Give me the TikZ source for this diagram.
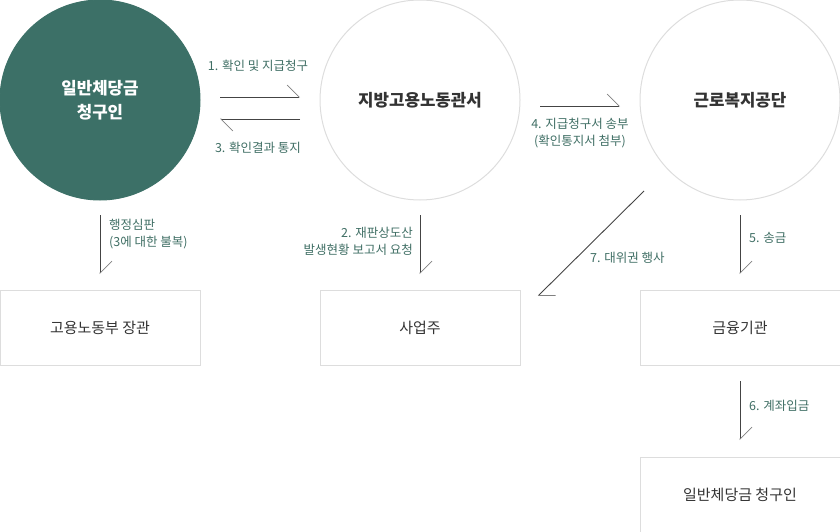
\documentclass[tikz,border=0pt]{standalone}
\usepackage{fontspec}
\setmainfont{Noto Sans CJK KR}
\usetikzlibrary{positioning,arrows.meta}
\definecolor{jade}{HTML}{3C7067}
\definecolor{notegreen}{HTML}{3F6E64}
\definecolor{ink}{HTML}{333333}
\definecolor{rim}{HTML}{DDDDDD}
\definecolor{wire}{HTML}{444444}
\tikzset{
  party/.style={circle, draw=rim, line width=1pt, minimum size=200pt, inner sep=0pt, outer sep=0pt,
    align=center, text=ink, font=\fontsize{16.8}{24}\selectfont\bfseries},
  office/.style={rectangle, draw=rim, line width=1pt, minimum width=200pt, minimum height=75pt,
    inner sep=0pt, outer sep=0pt, text=ink, font=\fontsize{15}{18}\selectfont},
  flow/.style={draw=wire, line width=0.9pt,
    -{Straight Barb[left, length=12pt, width=24pt, line width=0.7pt, color=gray]}},
  note/.style={text=notegreen, inner sep=0pt, font=\fontsize{12.5}{17}\selectfont}
}
\begin{document}
\begin{tikzpicture}[x=1pt, y=-1pt]
    \useasboundingbox (0,0) rectangle (840,532);

    \node (A) [party, fill=jade, draw=jade, text=white] at (100,100) {일반체당금\\청구인};
    \node (B) [party, right=120pt of A] {지방고용노동관서};
    \node (C) [party, right=120pt of B] {근로복지공단};

    \node (D) [office, below=90pt of A] {고용노동부 장관};
    \node (E) [office, below=90pt of B] {사업주};
    \node (F) [office, below=90pt of C] {금융기관};
    \node (G) [office, below=92pt of F] {일반체당금 청구인};

    \coordinate (s7) at (644,191);
    \coordinate (e7) at (538,296);

    \draw [flow, shorten <=20pt, shorten >=20pt] ([yshift=3pt]A.east) -- ([yshift=3pt]B.west);
    \draw [flow, shorten <=20pt, shorten >=20pt] ([yshift=-19pt]B.west) -- ([yshift=-19pt]A.east);
    \draw [flow, shorten <=20pt, shorten >=20pt] ([yshift=-6pt]B.east) -- ([yshift=-6pt]C.west);
    \draw [flow, shorten <=15pt, shorten >=16pt] (A.south) -- (D.north);
    \draw [flow, shorten <=15pt, shorten >=16pt] (B.south) -- (E.north);
    \draw [flow, shorten <=15pt, shorten >=16pt] (C.south) -- (F.north);
    \draw [flow, shorten <=16pt, shorten >=17pt] (F.south) -- (G.north);
    \draw [flow] (s7) -- (e7);

    \node (n1) [note] at (258,66) {1. 확인 및 지급청구};
    \node (n3) [note] at (258,148) {3. 확인결과 통지};
    \node (n4) [note, align=center] at (580,133) {4. 지급청구서 송부\\(확인통지서 첨부)};
    \node (n0) [note, align=left, anchor=west] at (109,234) {행정심판\\(3에 대한 불복)};
    \node (n2) [note, align=right, anchor=east] at (413,241) {2. 재판상도산\\발생현황 보고서 요청};
    \node (n5) [note, anchor=west] at (749,238) {5. 송금};
    \node (n6) [note, anchor=west] at (749,406) {6. 계좌입금};
    \node (n7) [note, anchor=west] at (590,258) {7. 대위권 행사};
\end{tikzpicture}
\end{document}
